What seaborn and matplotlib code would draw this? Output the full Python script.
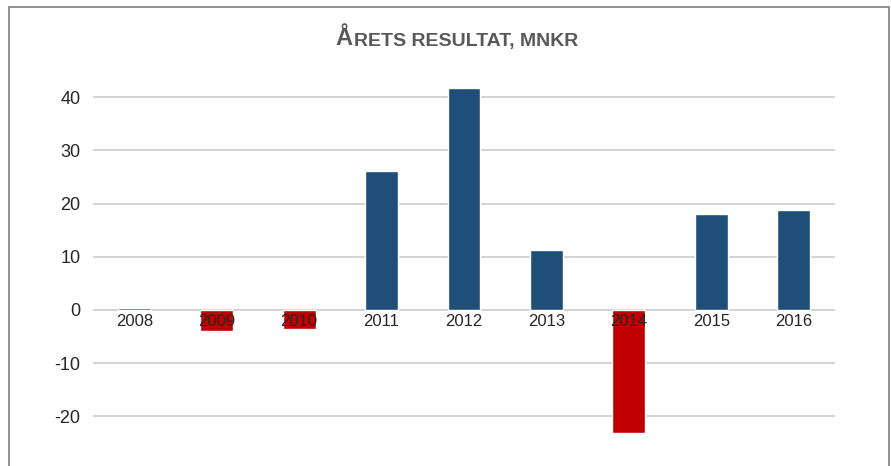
import matplotlib
matplotlib.use("Agg")
import matplotlib.pyplot as plt
import seaborn as sns
import pandas as pd
from matplotlib.patches import Rectangle

years = ["2008", "2009", "2010", "2011", "2012", "2013", "2014", "2015", "2016"]
values = [0.3, -4.0, -3.5, 26.1, 41.7, 11.3, -23.1, 18.0, 18.8]
yticks = [-20, -10, 0, 10, 20, 30, 40]

BLUE = "#1F4E79"
RED = "#C00000"

sns.set_theme(style="white")
plt.rcParams["font.family"] = ["Liberation Sans", "DejaVu Sans"]
plt.rcParams["axes.unicode_minus"] = False

df = pd.DataFrame({"year": years, "value": values})
df["sign"] = ["neg" if v < 0 else "pos" for v in values]

fig = plt.figure(figsize=(8.91, 4.66), dpi=100)
ax = fig.add_axes([93 / 891, 0.0, 742 / 891, 1 - 70.4 / 466])

sns.barplot(data=df, x="year", y="value", hue="sign",
            palette={"pos": BLUE, "neg": RED}, width=0.4, saturation=1,
            dodge=False, legend=False, ax=ax, zorder=2)

ax.set_xlim(-0.5, len(years) - 0.5)
ax.set_ylim(-29.3, 45)
ax.set_yticks(yticks)
for y in yticks:
    ax.axhline(y, color="#D0D0D0", lw=1.3, zorder=0.5)

for s in ["top", "right", "left", "bottom"]:
    ax.spines[s].set_visible(False)
ax.spines["bottom"].set_position(("data", 0))
ax.xaxis.set_zorder(5)
ax.yaxis.set_zorder(5)
ax.tick_params(axis="x", length=0, pad=3, labelsize=12, labelcolor="#262626")
ax.tick_params(axis="y", length=0, pad=9, labelsize=13, labelcolor="#262626")
ax.set_xlabel("")
ax.set_ylabel("")
ax.set_facecolor("none")

# Title with small caps effect
t1 = fig.text(335 / 891, 1 - 45 / 466, "Å", fontsize=17, fontweight="bold",
              color="#595959", va="baseline", ha="left")
fig.canvas.draw()
ax.annotate("RETS RESULTAT, MNKR", xy=(1, 0), xycoords=t1, xytext=(1.0, 0),
            textcoords="offset points", fontsize=14, fontweight="bold",
            color="#595959", va="bottom", ha="left", annotation_clip=False)

# Border
fig.patches.append(Rectangle((9 / 891, -0.05), 880 / 891, 1.05 - 7 / 466,
                             transform=fig.transFigure, fill=False,
                             edgecolor="#7F7F7F", lw=1.2))

fig.savefig("out.png", dpi=100)
